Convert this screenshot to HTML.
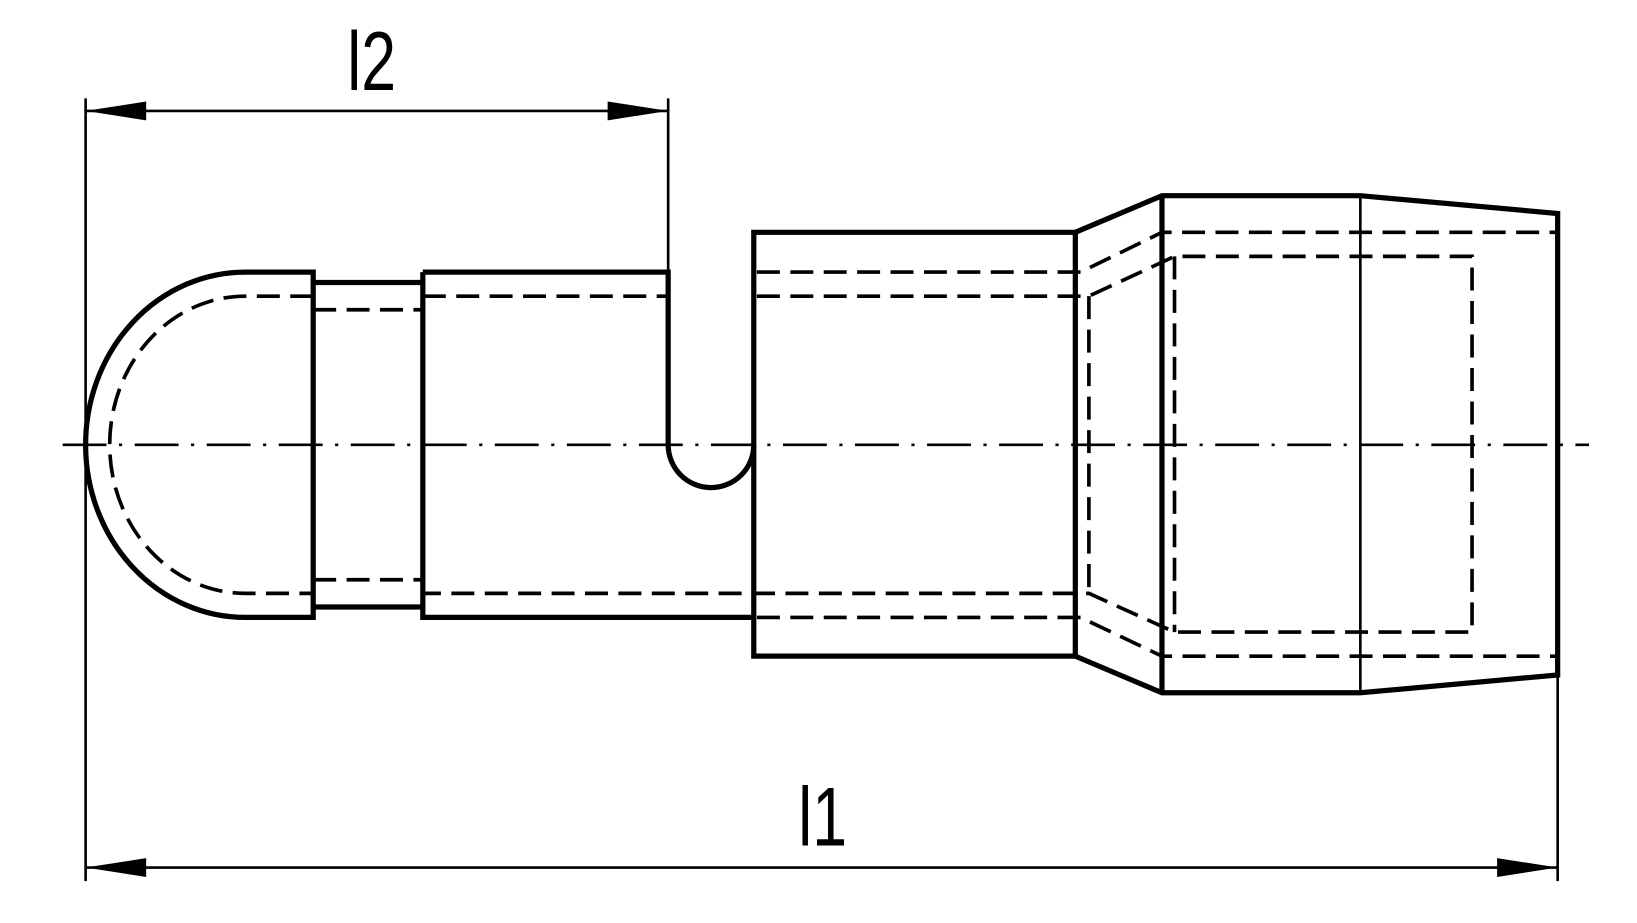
<!DOCTYPE html>
<html><head><style>html,body{margin:0;padding:0;background:#fff}svg{display:block}</style></head>
<body>
<svg width="1637" height="923" viewBox="0 0 1568 882" preserveAspectRatio="none" xmlns="http://www.w3.org/2000/svg">
<g fill="none" stroke="#000" stroke-linecap="butt">
<line x1="60" y1="425" x2="1522" y2="425" stroke-width="2.5" stroke-dasharray="42 12 3 12"/>
<g stroke-width="2.5">
<line x1="82" y1="94" x2="82" y2="842"/>
<line x1="640" y1="94" x2="640" y2="260"/>
<line x1="1492" y1="645" x2="1492" y2="842"/>
<line x1="82" y1="106" x2="640" y2="106"/>
<line x1="82" y1="829" x2="1492" y2="829"/>
</g>
<g stroke-width="5" stroke-linejoin="miter">
<path d="M300 260 L235 260 A153 165 0 0 0 235 590 L300 590 Z"/>
<path d="M300 270 L405 270 M300 580 L405 580"/>
<path d="M405 260 L640 260 L640 425 A41 41 0 0 0 722 425"/>
<path d="M405 260 L405 590 L722 590"/>
<path d="M722 222 L1030 222 L1030 627 L722 627 Z"/>
<path d="M1030 222 L1113 187 L1303 187 L1492 204 L1492 645 L1303 662 L1113 662 L1030 627"/>
<line x1="1113" y1="187" x2="1113" y2="662"/>
</g>
<line x1="1303" y1="187" x2="1303" y2="662" stroke-width="2.5"/>
<g stroke-width="3.5" stroke-dasharray="22 10">
<path d="M300 283 L235 283 A130 142 0 0 0 235 567 L300 567"/>
<path d="M300 296 L405 296 M300 554 L405 554"/>
<path d="M405 283 L640 283"/>
<path d="M725 283 L1043 283 L1125 245 L1410 245 L1410 604 L1125 604 L1043 567 L405 567"/>
<path d="M725 260 L1035 260 L1113 222 L1492 222"/>
<path d="M725 590 L1035 590 L1113 627 L1492 627"/>
<line x1="1043" y1="283" x2="1043" y2="567"/>
<line x1="1125" y1="245" x2="1125" y2="604"/>
</g>
</g>
<g fill="#000">
<polygon points="82,106 140,97 140,115"/>
<polygon points="640,106 582,97 582,115"/>
<polygon points="82,829 140,820 140,838"/>
<polygon points="1492,829 1434,820 1434,838"/>
</g>
<text x="356" y="86" font-family="Liberation Sans, sans-serif" font-size="80" font-weight="200" text-anchor="middle" transform="translate(356 0) scale(0.75 1) translate(-356 0)">l2</text>
<text x="788" y="808" font-family="Liberation Sans, sans-serif" font-size="80" font-weight="200" text-anchor="middle" transform="translate(788 0) scale(0.75 1) translate(-788 0)">l1</text>
</svg>
</body></html>
